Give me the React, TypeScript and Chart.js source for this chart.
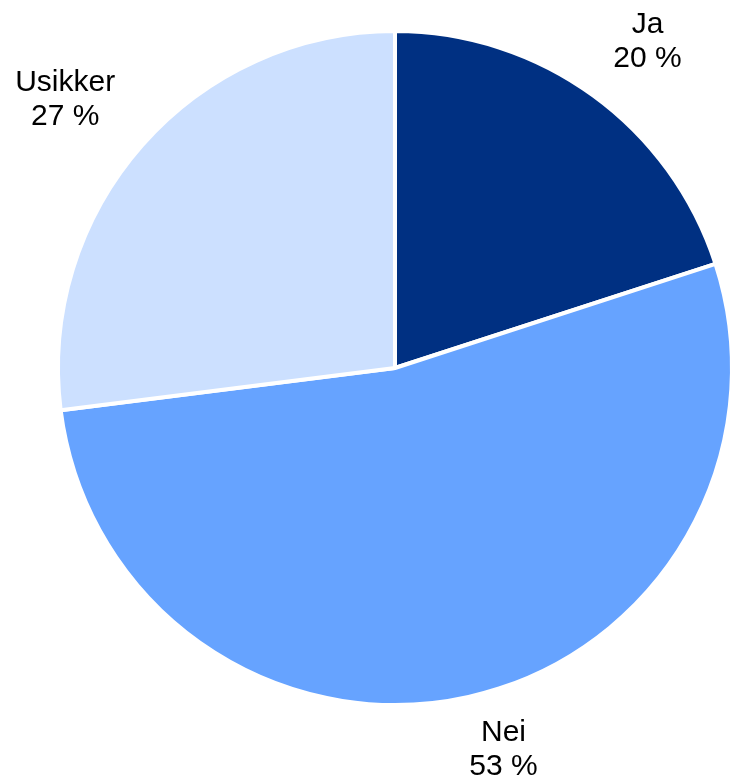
import React, { useEffect, useRef } from "react";
import { Chart, registerables } from "chart.js";

Chart.register(...registerables);

const categories = ["Ja", "Nei", "Usikker"];
const values = [20, 53, 27];
const percentLabels = ["20 %", "53 %", "27 %"];
const colors = ["#003082", "#66A3FF", "#CCE0FF"];
// label centre relative to pie centre, in units of the radius
const labelAnchors = [
  [0.745, -0.963],
  [0.32, 1.125],
  [-0.973, -0.792],
];

const labelPlugin = {
  id: "outsideLabels",
  afterDatasetsDraw(chart: any) {
    const meta = chart.getDatasetMeta(0);
    const ctx = chart.ctx;
    ctx.save();
    ctx.font = '30px "Liberation Sans", Arial, sans-serif';
    ctx.fillStyle = "#000000";
    ctx.textAlign = "center";
    ctx.textBaseline = "middle";
    meta.data.forEach((arc: any, i: number) => {
      const { x, y, outerRadius } = arc.getProps(["x", "y", "outerRadius"], true);
      const r = outerRadius + 2;
      const cx = x + labelAnchors[i][0] * r;
      const cy = y + labelAnchors[i][1] * r;
      ctx.fillText(categories[i], cx, cy - 17);
      ctx.fillText(percentLabels[i], cx, cy + 17);
    });
    ctx.restore();
  },
};

export default function App() {
  const ref = useRef<HTMLCanvasElement>(null);
  useEffect(() => {
    if (!ref.current) return;
    const chart = new Chart(ref.current, {
      type: "pie",
      data: {
        labels: categories,
        datasets: [
          {
            data: values,
            backgroundColor: colors,
            borderColor: "#ffffff",
            borderWidth: 4,
            hoverBorderWidth: 4,
          },
        ],
      },
      options: {
        responsive: false,
        animation: false,
        devicePixelRatio: 1,
        layout: { padding: { left: 56, right: 6, top: 29, bottom: 71 } },
        plugins: { legend: { display: false }, tooltip: { enabled: false } },
      },
      plugins: [labelPlugin],
    });
    return () => chart.destroy();
  }, []);
  return (
    <div
      style={{
        position: "fixed",
        left: 0,
        top: 0,
        width: 730,
        height: 778,
        overflow: "hidden",
        background: "#ffffff",
      }}
    >
      <canvas ref={ref} width={740} height={778} style={{ display: "block" }} />
    </div>
  );
}
